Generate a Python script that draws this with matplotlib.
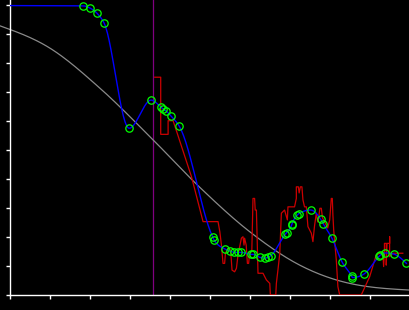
import numpy as np
import matplotlib
matplotlib.use("Agg")
import matplotlib.pyplot as plt

# ---- data (x: 0..100, y: 0..~102) ----
blue_x = [0, 18.2, 19.95, 21.7, 23.45, 29.7, 35.2, 37.7, 38.2, 38.8, 40.2, 42.2,
          50.6, 50.95, 53.75, 55.0, 56.0, 56.9, 57.75, 60.3, 60.75, 62.4, 63.75,
          64.45, 65.1, 68.8, 69.1, 70.4, 70.5, 71.8, 72.1, 75.1, 77.6, 78.3,
          80.45, 82.95, 85.45, 85.6, 88.45, 92.3, 92.6, 93.8, 95.95, 99.1]
blue_y = [99.8, 99.7, 98.9, 97.1, 93.7, 57.5, 67.2, 64.7, 64.1, 63.6, 61.7, 58.3,
          20.0, 19.0, 15.8, 15.1, 14.7, 14.7, 14.7, 14.0, 14.0, 13.0, 12.7,
          13.0, 13.5, 21.0, 21.5, 24.2, 24.6, 27.6, 28.0, 29.3, 26.2, 24.5,
          19.6, 11.5, 6.4, 6.0, 7.2, 13.4, 13.8, 14.5, 14.1, 10.9]

red_x = [36.1, 37.6, 37.6, 39.45, 39.45, 40.7, 45.3, 48.2, 51.95, 52.4, 52.8, 53.2,
         53.6, 53.8, 54.45, 55.1, 55.45, 56.1, 56.55, 56.95, 57.8, 58.2, 58.45,
         58.6, 59.0, 59.3, 59.6, 59.9, 60.4, 60.7, 61.1, 61.25, 61.55, 61.75,
         61.95, 63.2, 64.05, 64.9, 65.05, 66.4, 66.55, 67.0, 67.4, 67.8, 68.6,
         69.3, 69.45, 71.1, 71.55, 71.55, 72.05, 72.25, 72.55, 72.95, 73.2,
         73.6, 74.05, 74.45, 75.3, 75.7, 76.1, 76.55, 76.9, 77.1, 77.45,
         77.8, 78.1, 78.6, 79.4, 79.9, 80.3, 80.55, 80.7, 80.9, 81.55, 81.95,
         82.4, 87.8, 89.9, 91.55, 93.2, 93.4, 93.6, 93.6, 94.05, 94.05, 94.25,
         94.9, 94.9, 94.9, 95.7, 98.2]
red_y = [75.1, 75.1, 55.4, 55.4, 60.1, 60.1, 40.8, 25.3, 25.3, 21.8, 17.2, 10.9,
         10.9, 14.4, 16.1, 15.5, 8.6, 8.0, 9.2, 13.8, 19.6, 20.1, 17.2,
         19.6, 17.2, 10.9, 10.9, 14.9, 14.9, 33.3, 33.3, 29.3, 29.3, 19.0,
         7.5, 7.5, 5.2, 4.0, 0.0, 0.0, 4.0, 9.3, 14.4, 28.2, 29.3,
         25.9, 30.4, 30.4, 33.3, 37.3, 37.3, 35.2, 37.3, 37.3, 32.8,
         30.4, 30.4, 23.6, 21.3, 18.4, 23.8, 28.2, 25.2, 26.4, 29.9,
         29.9, 26.6, 25.2, 23.1, 25.9, 33.3, 33.3, 27.6, 22.4, 12.1, 2.9,
         0.0, 0.0, 6.3, 13.8, 14.9, 9.8, 14.9, 17.8, 17.8, 10.3, 17.8,
         17.8, 20.1, 13.2, 14.4, 14.4]

gray_x = [-2.6, 9.9, 22.4, 34.9, 47.4, 59.9, 72.4, 84.9, 99.9]
gray_y = [92.8, 85.1, 71.3, 54.6, 37.1, 21.8, 10.3, 4.0, 1.7]

marker_x = 35.7
x_ticks = list(range(0, 101, 10))
y_ticks = list(range(0, 101, 10))


def monotone(xs, ys, n=30):
    """Monotone cubic (d3 curveMonotoneX style) interpolation."""
    x = np.asarray(xs, float)
    y = np.asarray(ys, float)
    h = np.diff(x)
    s = np.diff(y) / h
    m = np.zeros_like(x)
    for i in range(1, len(x) - 1):
        h0, h1, s0, s1 = h[i - 1], h[i], s[i - 1], s[i]
        p = (s0 * h1 + s1 * h0) / (h0 + h1)
        m[i] = (np.sign(s0) + np.sign(s1)) * min(abs(s0), abs(s1), 0.5 * abs(p))
    m[0] = (3 * s[0] - m[1]) / 2
    m[-1] = (3 * s[-1] - m[-2]) / 2
    ox, oy = [], []
    for i in range(len(x) - 1):
        t = np.linspace(0, 1, n, endpoint=False)
        dx = h[i]
        h00 = 2 * t**3 - 3 * t**2 + 1
        h10 = t**3 - 2 * t**2 + t
        h01 = -2 * t**3 + 3 * t**2
        h11 = t**3 - t**2
        ox.extend(x[i] + t * dx)
        oy.extend(h00 * y[i] + h10 * dx * m[i] + h01 * y[i + 1] + h11 * dx * m[i + 1])
    ox.append(x[-1])
    oy.append(y[-1])
    return np.array(ox), np.array(oy)


fig = plt.figure(figsize=(4.1, 3.1), dpi=100, facecolor="black")
ax = fig.add_axes([10.5 / 410, 15 / 310, 1 - 10.5 / 410, 295 / 310])
ax.set_facecolor("black")

gx, gy = monotone(gray_x, gray_y)
ax.plot(gx, gy, color="#8a8a8a", lw=0.9, clip_on=False, zorder=2)

ax.axvline(marker_x, color="#800080", lw=0.9, zorder=1)

ax.plot(red_x, red_y, color="#cc0000", lw=0.9, zorder=3)

bx, by = monotone(blue_x, blue_y)
ax.plot(bx, by, color="#0000ff", lw=1.0, zorder=4)
ax.plot(blue_x[1:], blue_y[1:], linestyle="none", marker="o", ms=5.3,
        markerfacecolor="none", markeredgecolor="#00ff00", markeredgewidth=0.9,
        zorder=5)

ax.set_xlim(0, 100)
ax.set_ylim(0, 295 / 2.9)
ax.set_xticks(x_ticks)
ax.set_yticks(y_ticks)
ax.set_xticklabels([])
ax.set_yticklabels([])
for side in ("top", "right"):
    ax.spines[side].set_visible(False)
for side in ("left", "bottom"):
    ax.spines[side].set_color("white")
    ax.spines[side].set_linewidth(1.0)
ax.tick_params(colors="white", direction="out", length=3, width=1.0)

fig.savefig("out.png", dpi=100, facecolor="black")
